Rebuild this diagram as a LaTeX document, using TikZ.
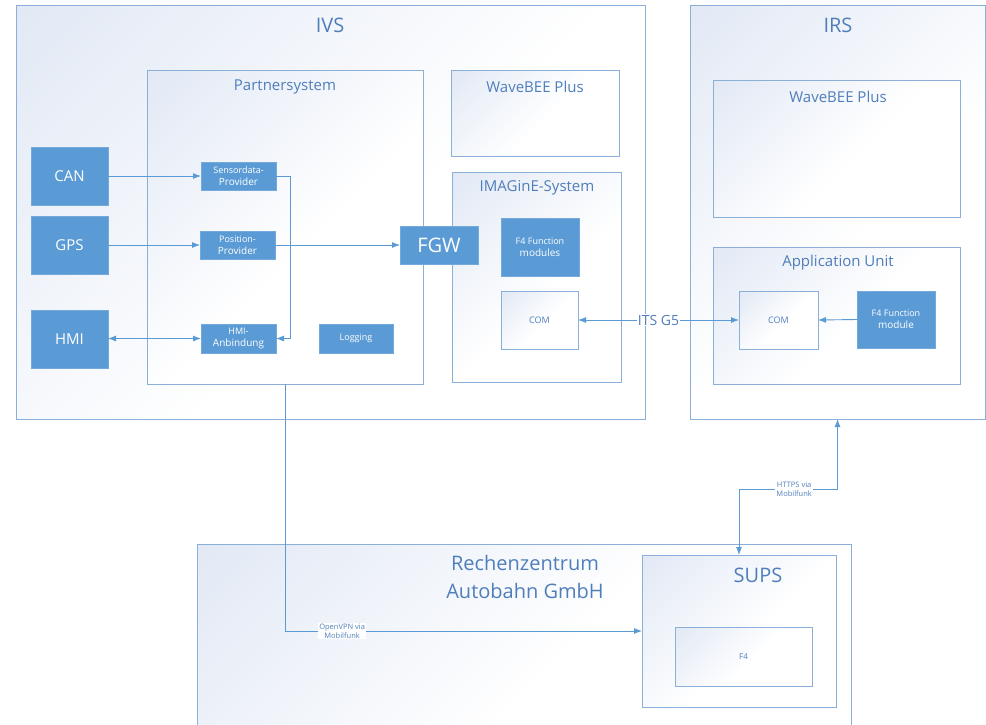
\documentclass[tikz,border=0pt]{standalone}
\usepackage{fontspec}
\setmainfont{Open Sans}
\usetikzlibrary{shadows,arrows.meta}
\definecolor{fillc}{HTML}{5B9BD5}
\definecolor{contc}{HTML}{8AB0DA}
\definecolor{titc}{HTML}{4F7EBA}
\definecolor{gradc}{HTML}{E2E9F5}
\definecolor{linec}{HTML}{5B9BD5}
\pgfdeclareverticalshading{boxgrad}{100bp}{color(0bp)=(white); color(45bp)=(white); color(85bp)=(gradc); color(100bp)=(gradc)}
\newcommand\placebox[7]{\node[#1, minimum width={(#5)-(#3)}, minimum height={(#6)-(#4)}] (#2) at (#3,#4) {#7};}
\newcommand\fs[1]{\fontsize{#1}{\dimexpr #1pt*6/5\relax}\selectfont}
\begin{document}
\begin{tikzpicture}[x=1pt,y=-1pt,
  cont/.style={draw=contc, line width=0.9pt, shade, shading=boxgrad, shading angle=45, inner sep=0pt, outer sep=0pt, anchor=north west},
  fbox/.style={draw=fillc!85!white, fill=fillc, text=white, inner sep=0pt, outer sep=0pt, anchor=north west, align=center,
    drop shadow={shadow xshift=1pt, shadow yshift=-1pt, opacity=0.25}},
  wbox/.style={cont, text=titc, align=center},
  bigtitle/.style={text=titc, font=\fontsize{20}{28}\selectfont, align=center, inner sep=0pt},
  midtitle/.style={text=titc, font=\fontsize{15}{18}\selectfont, inner sep=0pt},
  ln/.style={draw=linec, line width=0.9pt},
  arr/.style={ln, -{Latex[length=8pt,width=6pt]}},
  darr/.style={ln, {Latex[length=8pt,width=6pt]}-{Latex[length=8pt,width=6pt]}},
  lbl/.style={fill=white, text=titc, align=center, inner sep=1pt, font=\fontsize{7.5}{9}\selectfont}
]
\useasboundingbox (0,0) rectangle (986,724);
\clip (0,0) rectangle (986,724);
\fill[white] (0,0) rectangle (986,724);

% containers
\placebox{cont}{ivs}{16}{5}{645}{419}{}
\placebox{cont}{irs}{690}{5}{985}{419}{}
\placebox{cont}{rz}{197}{544}{851}{740}{}
\node[bigtitle] (ivst) at (330,25) {IVS};
\node[bigtitle] (irst) at (838,25) {IRS};

\placebox{cont}{partner}{147}{70}{423}{384}{}
\node[midtitle] (partnert) at (285,87) {Partnersystem};
\placebox{cont}{wb1}{451}{70}{619}{156}{}
\node[midtitle] (wb1t) at (535,87) {WaveBEE Plus};
\placebox{cont}{imag}{452}{172}{621}{382}{}
\node[midtitle] (imagt) at (537,188) {IMAGinE-System};
\placebox{cont}{wb2}{713}{80}{960}{217}{}
\node[midtitle] (wb2t) at (838,97) {WaveBEE Plus};
\placebox{cont}{appu}{713}{247}{960}{384}{}
\node[midtitle] (apput) at (838,263) {Application Unit};

\node[bigtitle] (rzt) at (525,577) {Rechenzentrum\\Autobahn GmbH};
\placebox{cont}{sups}{642}{555}{836}{707}{}
\node[bigtitle] (supst) at (758,575) {SUPS};
\placebox{wbox}{f4}{675}{627}{812}{686}{\fs{8}F4}

% filled boxes
\placebox{fbox}{can}{31}{147}{108}{205}{\fs{15}CAN}
\placebox{fbox}{gps}{31}{216}{108}{274}{\fs{15}GPS}
\placebox{fbox}{hmi}{31}{310}{108}{368}{\fs{15}HMI}
\placebox{fbox}{sens}{201}{162}{276}{190}{\fs{9}Sensordata-\\Provider}
\placebox{fbox}{pos}{200}{231}{275}{259}{\fs{9}Position-\\Provider}
\placebox{fbox}{hmia}{201}{324}{276}{353}{\fs{9}HMI-\\Anbindung}
\placebox{fbox}{log}{319}{324}{393}{353}{\fs{9}Logging}
\placebox{fbox}{fgw}{400}{226}{478}{264}{\fs{20}FGW}
\placebox{fbox}{f4m}{501}{218}{579}{276}{\fs{9}F4 Function\\modules}
\placebox{wbox}{com1}{501}{291}{578}{349}{\fs{9}COM}
\placebox{wbox}{com2}{739}{291}{818}{349}{\fs{9}COM}
\placebox{fbox}{f4mod}{857}{291}{935}{348}{\fs{9}F4 Function\\module}

% connectors
\draw[arr] (can.east |- sens.west) -- (sens.west);
\draw[arr] (gps.east |- pos.west) -- (pos.west);
\draw[darr] (hmi.east |- hmia.west) -- (hmia.west);
\draw[arr] (sens.east) -- ++(14,0) |- (hmia.east);
\draw[arr] (pos.east) -- (fgw.west |- pos.east);
\draw[darr] (com1.east) -- node[fill=white, text=titc, inner sep=1pt, font=\fontsize{14}{16}\selectfont] (its) {ITS G5} (com2.west);
\draw[arr] (f4mod.west) -- (com2.east);
\draw[arr] (partner.south) |- node[lbl, pos=0.58] (ovpn) {OpenVPN via\\Mobilfunk} (sups.west);
\path (sups.north) ++(0,-66) coordinate (hk);
\draw[darr] (sups.north) -- (hk) -| node[lbl, pos=0.28] (https) {HTTPS via\\Mobilfunk} (irs.south);
\end{tikzpicture}
\end{document}
